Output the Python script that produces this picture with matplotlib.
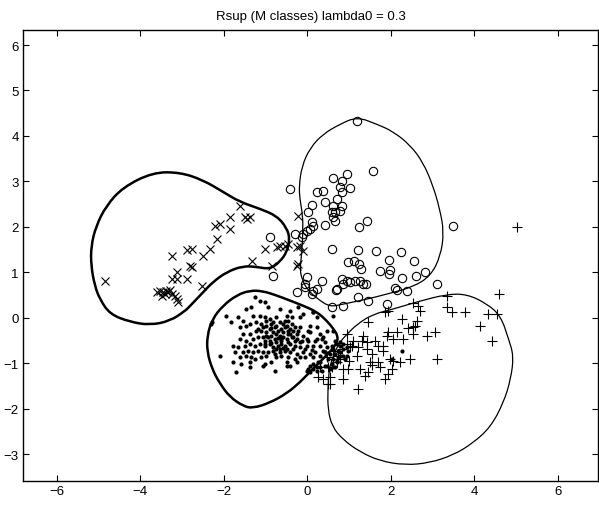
import matplotlib
matplotlib.use("Agg")
import matplotlib.pyplot as plt
from matplotlib.path import Path
from matplotlib.patches import PathPatch

plt.rcParams['font.family'] = ['Liberation Sans', 'DejaVu Sans']

title = "Rsup (M classes) lambda0 = 0.3"
xticks = [-6, -4, -2, 0, 2, 4, 6]
yticks = [-3, -2, -1, 0, 1, 2, 3, 4, 5, 6]

# class "x"
cross_x = [-4.85, -1.62, -1.50, -1.38, -1.45, -1.86, -2.22, -2.10, -1.86, -2.17, -2.34, -2.50,
           -3.25, -2.89, -2.77, -2.81, -2.77, -3.13, -3.25, -3.13, -2.89, -2.53, -3.60, -3.53,
           -3.46, -3.41, -3.34, -3.49, -3.25, -3.17, -3.13, -3.10, -1.33, -1.02, -0.73, -0.66,
           -0.47, -0.25, -0.85, -0.25, -0.23, -0.54, -0.18, -0.11, -0.23, -3.38, -3.30]
cross_y = [0.81, 2.46, 2.22, 2.22, 2.17, 2.22, 2.02, 2.06, 1.95, 1.73, 1.51, 1.36,
           1.36, 1.49, 1.51, 1.14, 1.12, 1.01, 0.85, 0.85, 0.85, 0.70, 0.56, 0.59,
           0.56, 0.52, 0.56, 0.48, 0.52, 0.48, 0.41, 0.34, 1.25, 1.51, 1.56, 1.58,
           1.62, 1.56, 1.14, 1.14, 2.24, 1.58, 1.58, 1.47, 1.18, 0.60, 0.62]

# class "o"
circ_x = [1.19, 1.57, -0.42, 0.95, 0.61, 0.83, 0.23, 0.37, 0.78, 1.02, 0.83, 0.71, 0.42, 0.11,
          0.01, 0.61, 0.83, 0.66, 0.78, 0.59, 0.61, 0.66, 0.42, 0.11, 0.13, 0.06, -0.01, -0.11,
          -0.13, -0.30, 1.23, 1.43, 3.49, 0.59, 1.21, 1.64, 2.24, 1.95, 2.55, 0.97, 1.11, 1.23,
          1.28, 1.74, 1.98, 1.95, 2.26, 2.60, 2.81, 3.10, -0.01, -0.06, 0.35, 0.83, 0.95, 1.02,
          1.14, 1.26, 1.40, 0.68, 0.23, 0.13, 0.11, -0.25, 1.21, 2.10, 2.14, 2.38, 0.59, 0.85,
          1.45, 1.90, -0.90, -0.83, 0.85, 0.71, 1.33, -0.06]
circ_y = [4.33, 3.23, 2.83, 3.16, 3.07, 3.01, 2.77, 2.79, 2.88, 2.85, 2.77, 2.61, 2.55, 2.48,
          2.33, 2.46, 2.46, 2.33, 2.35, 2.33, 2.22, 2.13, 2.04, 2.11, 2.02, 1.95, 1.91, 1.84,
          1.78, 1.84, 2.00, 2.13, 2.02, 1.51, 1.49, 1.47, 1.45, 1.27, 1.25, 1.23, 1.25, 1.18,
          1.07, 1.03, 1.05, 0.96, 0.87, 0.92, 1.01, 0.74, 0.90, 0.74, 0.81, 0.85, 0.81, 0.79,
          0.81, 0.81, 0.74, 0.61, 0.63, 0.59, 0.52, 0.56, 0.46, 0.65, 0.61, 0.59, 0.24, 0.26,
          0.37, 0.30, 1.78, 0.92, 0.74, 0.63, 0.74, 0.68]

# class "."
dot_x = [-1.26, -1.14, -1.02, -1.34, -1.46, -0.94, -0.66, -0.42, -0.22, -1.94, -1.66, -1.54,
         -1.30, -1.14, -1.02, -0.90, -0.74, -0.50, -0.38, -0.18, 0.14, 0.22, 0.62, -2.30,
         -1.82, -1.62, -1.46, -1.38, -1.22, -1.10, -0.98, -0.86, -0.66, -0.54, -0.46, -0.38,
         -0.18, 0.06, 0.22, -1.54, -1.38, -1.22, -1.10, -0.98, -0.90, -0.78, -0.70, -0.62,
         -0.54, -0.46, -0.34, -0.26, -0.10, 0.06, 0.30, 0.46, -1.62, -1.46, -1.30, -1.18,
         -1.06, -0.94, -0.86, -0.78, -0.66, -0.58, -0.50, -0.38, -0.26, -0.14, 0.02, 0.18,
         0.34, 0.42, -1.78, -1.66, -1.50, -1.38, -1.26, -1.14, -1.02, -0.90, -0.82, -0.70,
         -0.62, -0.54, -0.42, -0.30, -0.18, -0.02, 0.14, 0.30, 0.46, 0.58, 0.70, -1.74,
         -1.54, -1.42, -1.30, -1.18, -1.06, -0.94, -0.82, -0.66, -0.54, -0.42, -0.26, -0.10,
         0.06, 0.18, 0.42, 0.54, 0.66, 0.78, -2.10, -1.62, -1.46, -1.34, -1.10, -0.98,
         -0.74, -0.46, -0.30, -0.06, 0.14, 0.30, 0.50, 0.62, 0.74, 0.86, 0.94, -1.78,
         -1.58, -1.38, -1.02, -0.86, -0.50, -0.26, 0.06, 0.26, 0.42, 0.58, 0.70, -1.38,
         -1.06, -0.50, -0.42, 0.14, 0.30, 0.46, -1.70, -0.78, 0.06, 0.22, 0.34, 0.54,
         0.66, -0.02, 0.66, 0.78, 0.86, 0.62, 0.74, 0.86, 0.98, 0.78, 0.90, 0.70,
         -0.11, 0.13, 0.01, -0.01, 0.23, 0.37, 0.61, 0.78, 0.42, 0.95, 0.30, 0.13,
         0.01, 0.23, 0.61, 2.02, 2.26, -2.29,
         -0.98, -0.82, -0.74, -0.58, -0.50, -0.30, -1.06, -0.82, -0.58, -0.42, -0.98, -0.74,
         -0.62, -0.46, -0.30, -0.74, -0.90, -1.02, -0.34, -0.50, -0.74, -0.18, -0.06, -0.62,
         -0.18, -1.18, -0.86, -0.70, -0.58, -0.46, -1.02, -0.78, -0.62, -0.34, -0.22, 0.10,
         0.38, -1.26, -0.86, -0.66, -0.42]
dot_y = [0.45, 0.38, 0.34, 0.23, 0.19, 0.23, 0.19, 0.16, 0.23, 0.04, 0.01, -0.06,
         0.04, 0.04, 0.01, -0.03, 0.01, 0.04, 0.01, 0.01, 0.12, 0.01, 0.03, -0.14,
         -0.10, -0.21, -0.17, -0.14, -0.10, -0.14, -0.17, -0.14, -0.10, -0.06, -0.06, -0.14,
         -0.21, -0.17, -0.21, -0.36, -0.36, -0.29, -0.29, -0.32, -0.25, -0.21, -0.29, -0.25,
         -0.21, -0.29, -0.29, -0.36, -0.39, -0.32, -0.36, -0.29, -0.47, -0.50, -0.47, -0.43,
         -0.43, -0.43, -0.39, -0.47, -0.39, -0.43, -0.47, -0.43, -0.47, -0.50, -0.50, -0.50,
         -0.47, -0.54, -0.61, -0.65, -0.61, -0.58, -0.61, -0.58, -0.58, -0.58, -0.65, -0.61,
         -0.58, -0.61, -0.58, -0.61, -0.65, -0.61, -0.61, -0.61, -0.65, -0.61, -0.58, -0.76,
         -0.76, -0.72, -0.76, -0.72, -0.76, -0.76, -0.72, -0.76, -0.72, -0.76, -0.80, -0.76,
         -0.80, -0.76, -0.76, -0.80, -0.80, -0.76, -0.84, -0.87, -0.84, -0.87, -0.87, -0.84,
         -0.87, -0.87, -0.91, -0.87, -0.87, -0.84, -0.91, -0.91, -0.87, -0.84, -0.65, -0.98,
         -1.02, -0.98, -1.02, -0.98, -0.98, -0.98, -1.06, -0.98, -1.06, -1.02, -0.98, -1.09,
         -1.06, -1.06, -1.06, -1.13, -1.09, -1.06, -1.20, -1.18, -1.20, -1.16, -1.18, -1.13,
         -1.09, -1.16, -0.50, -0.54, -0.58, -0.69, -0.72, -0.69, -0.72, -0.84, -0.91, -0.95,
         0.08, 0.13, -0.29, -0.47, -0.47, -0.43, -0.29, -0.62, -0.75, -0.84, -0.97, -1.02,
         -1.13, -1.08, -1.08, -0.91, -0.73, -0.09,
         -0.06, -0.10, -0.17, -0.14, -0.17, -0.21, -0.21, -0.32, -0.32, -0.36, -0.39, -0.36,
         -0.50, -0.54, -0.50, -0.54, -0.50, -0.50, -0.69, -0.69, -0.69, -0.54, -0.69, -0.84,
         -0.87, -0.25, -0.55, -0.44, -0.66, -0.35, -0.62, -0.80, -0.47, -0.42, -0.30, -0.70,
         -0.72, -0.90, -0.22, -0.68, -0.25]

# class "+"
plus_x = [4.59, 3.34, 2.53, 2.65, 2.69, 3.34, 3.46, 3.77, 4.32, 4.54, 4.13, 4.42, 1.93, 1.86,
          1.45, 2.26, 2.62, 2.57, 2.53, 0.95, 1.33, 1.93, 2.14, 1.90, 2.05, 2.29, 2.53, 2.86,
          3.05, 1.31, 1.43, 1.62, 1.81, 1.69, 1.21, 1.43, 1.81, 0.95, 1.02, 0.83, 2.46, 3.10,
          1.50, 1.69, 1.54, 1.74, 1.98, 2.05, 2.22, 1.26, 0.97, 0.85, 0.59, 2.02, 1.93, 1.45,
          1.38, 1.86, 0.85, 0.25, 0.37, 0.54, 0.54, 1.21, 1.07, 1.19, 0.61, 0.73, 0.47, 0.61,
          0.30, 0.49, 0.78, 0.49, 5.02, 1.10, 1.55, 2.40, 0.70, 1.00]
plus_y = [0.52, 0.48, 0.32, 0.26, 0.15, 0.24, 0.13, 0.13, 0.08, 0.08, -0.18, -0.51, 0.15, 0.13,
          -0.10, -0.03, -0.07, -0.18, -0.20, -0.36, -0.40, -0.31, -0.31, -0.40, -0.47, -0.47,
          -0.36, -0.40, -0.31, -0.51, -0.53, -0.51, -0.62, -0.62, -0.64, -0.69, -0.73, -0.58,
          -0.64, -0.69, -0.91, -0.91, -0.98, -0.98, -1.04, -1.08, -0.91, -0.95, -0.98, -1.13,
          -1.13, -1.13, -1.08, -1.13, -1.24, -1.19, -1.28, -1.35, -1.35, -1.31, -1.35, -1.31,
          -1.46, -1.57, -0.62, -0.84, -0.91, -0.84, -0.86, -0.73, -1.08, -1.08, -0.91, -1.46,
          2.00, -0.50, -0.80, -0.22, -0.98, -0.95]

# decision boundaries (control points of closed smooth curves)
bound_cross_x = [-3.70, -3.05, -2.50, -2.02, -1.62, -1.14, -0.73, -0.49, -0.42, -0.49, -0.66,
                 -0.90, -1.21, -1.54, -1.93, -2.26, -2.50, -2.81, -2.93, -3.29, -3.77, -4.25,
                 -4.73, -4.97, -5.09, -5.18, -5.18, -5.06, -4.82, -4.42]
bound_cross_y = [3.20, 3.20, 3.03, 2.77, 2.55, 2.40, 2.24, 1.97, 1.73, 1.45, 1.23,
                 1.07, 1.12, 1.14, 1.01, 0.79, 0.56, 0.26, 0.15, -0.07, -0.16, -0.09,
                 0.08, 0.41, 0.70, 1.14, 1.58, 2.02, 2.46, 2.87]

bound_dot_x = [-1.38, -1.07, -0.73, -0.42, -0.11, 0.23, 0.47, 0.63, 0.73, 0.71, 0.54, 0.30,
               0.06, -0.18, -0.49, -0.90, -1.31, -1.54, -1.86, -2.10, -2.28, -2.40, -2.40,
               -2.28, -2.02, -1.69]
bound_dot_y = [0.60, 0.59, 0.49, 0.38, 0.27, 0.13, -0.07, -0.25, -0.40, -0.55, -0.75, -0.97,
               -1.19, -1.42, -1.66, -1.87, -1.99, -1.94, -1.74, -1.44, -1.13, -0.75, -0.40,
               -0.03, 0.27, 0.50]

bound_circ_x = [1.19, 1.66, 2.05, 2.46, 2.77, 3.01, 3.17, 3.27, 3.19, 2.95, 2.53, 1.98, 1.43,
                0.85, 0.54, 0.25, -0.01, -0.13, -0.18, -0.13, -0.11, -0.11, -0.18, -0.20,
                -0.13, 0.06, 0.37, 0.78]
bound_circ_y = [4.42, 4.26, 4.10, 3.80, 3.42, 2.90, 2.39, 1.89, 1.36, 0.92, 0.68, 0.54, 0.41,
                0.30, 0.24, 0.41, 0.63, 0.85, 1.07, 1.45, 1.89, 2.24, 2.61, 2.90,
                3.34, 3.73, 4.04, 4.26]

bound_plus_x = [0.95, 1.19, 1.57, 2.05, 2.62, 3.34, 3.82, 4.30, 4.63, 4.82, 4.94, 4.87, 4.70,
                4.39, 3.96, 3.49, 2.93, 2.34, 1.74, 1.26, 0.85, 0.59, 0.49, 0.49, 0.52, 0.63,
                0.78]
bound_plus_y = [-0.36, -0.14, 0.08, 0.19, 0.35, 0.52, 0.52, 0.31, 0.04, -0.47, -0.84, -1.35,
                -1.86, -2.40, -2.76, -3.02, -3.19, -3.24, -3.15, -2.95, -2.68, -2.39, -2.01,
                -1.57, -1.13, -0.80, -0.53]


def closed_smooth(xs, ys):
    """Quadratic-Bezier path through midpoints, using the given points as controls."""
    n = len(xs)
    mids = [((xs[i] + xs[(i + 1) % n]) / 2, (ys[i] + ys[(i + 1) % n]) / 2) for i in range(n)]
    verts = [mids[n - 1]]
    codes = [Path.MOVETO]
    for i in range(n):
        verts += [(xs[i], ys[i]), mids[i]]
        codes += [Path.CURVE3, Path.CURVE3]
    return Path(verts, codes)


fig = plt.figure(figsize=(5.99, 5.06), dpi=100)
ax = fig.add_axes([0.0384, 0.0474, 0.960, 0.8913])

for bx, by, lw in [(bound_cross_x, bound_cross_y, 1.8), (bound_dot_x, bound_dot_y, 1.8),
                   (bound_circ_x, bound_circ_y, 0.9), (bound_plus_x, bound_plus_y, 0.9)]:
    ax.add_patch(PathPatch(closed_smooth(bx, by), fill=False, edgecolor='black', lw=lw))

ax.plot(cross_x, cross_y, 'x', color='black', ms=6, mew=0.8)
ax.plot(circ_x, circ_y, 'o', mfc='none', mec='black', ms=6, mew=0.8)
ax.plot(dot_x, dot_y, 'o', color='black', ms=3.0, mew=0)
ax.plot(plus_x, plus_y, '+', color='black', ms=6.5, mew=0.8)

ax.set_xlim(-6.81, 6.96)
ax.set_ylim(-3.59, 6.33)
ax.set_xticks(xticks)
ax.set_yticks(yticks)
ax.tick_params(direction='in', top=True, right=True, length=4, width=0.8,
               labelsize=9.5, pad=3)
for s in ax.spines.values():
    s.set_linewidth(1.0)
ax.set_title(title, fontsize=9.5, pad=8)

fig.savefig("out.png", dpi=100)
